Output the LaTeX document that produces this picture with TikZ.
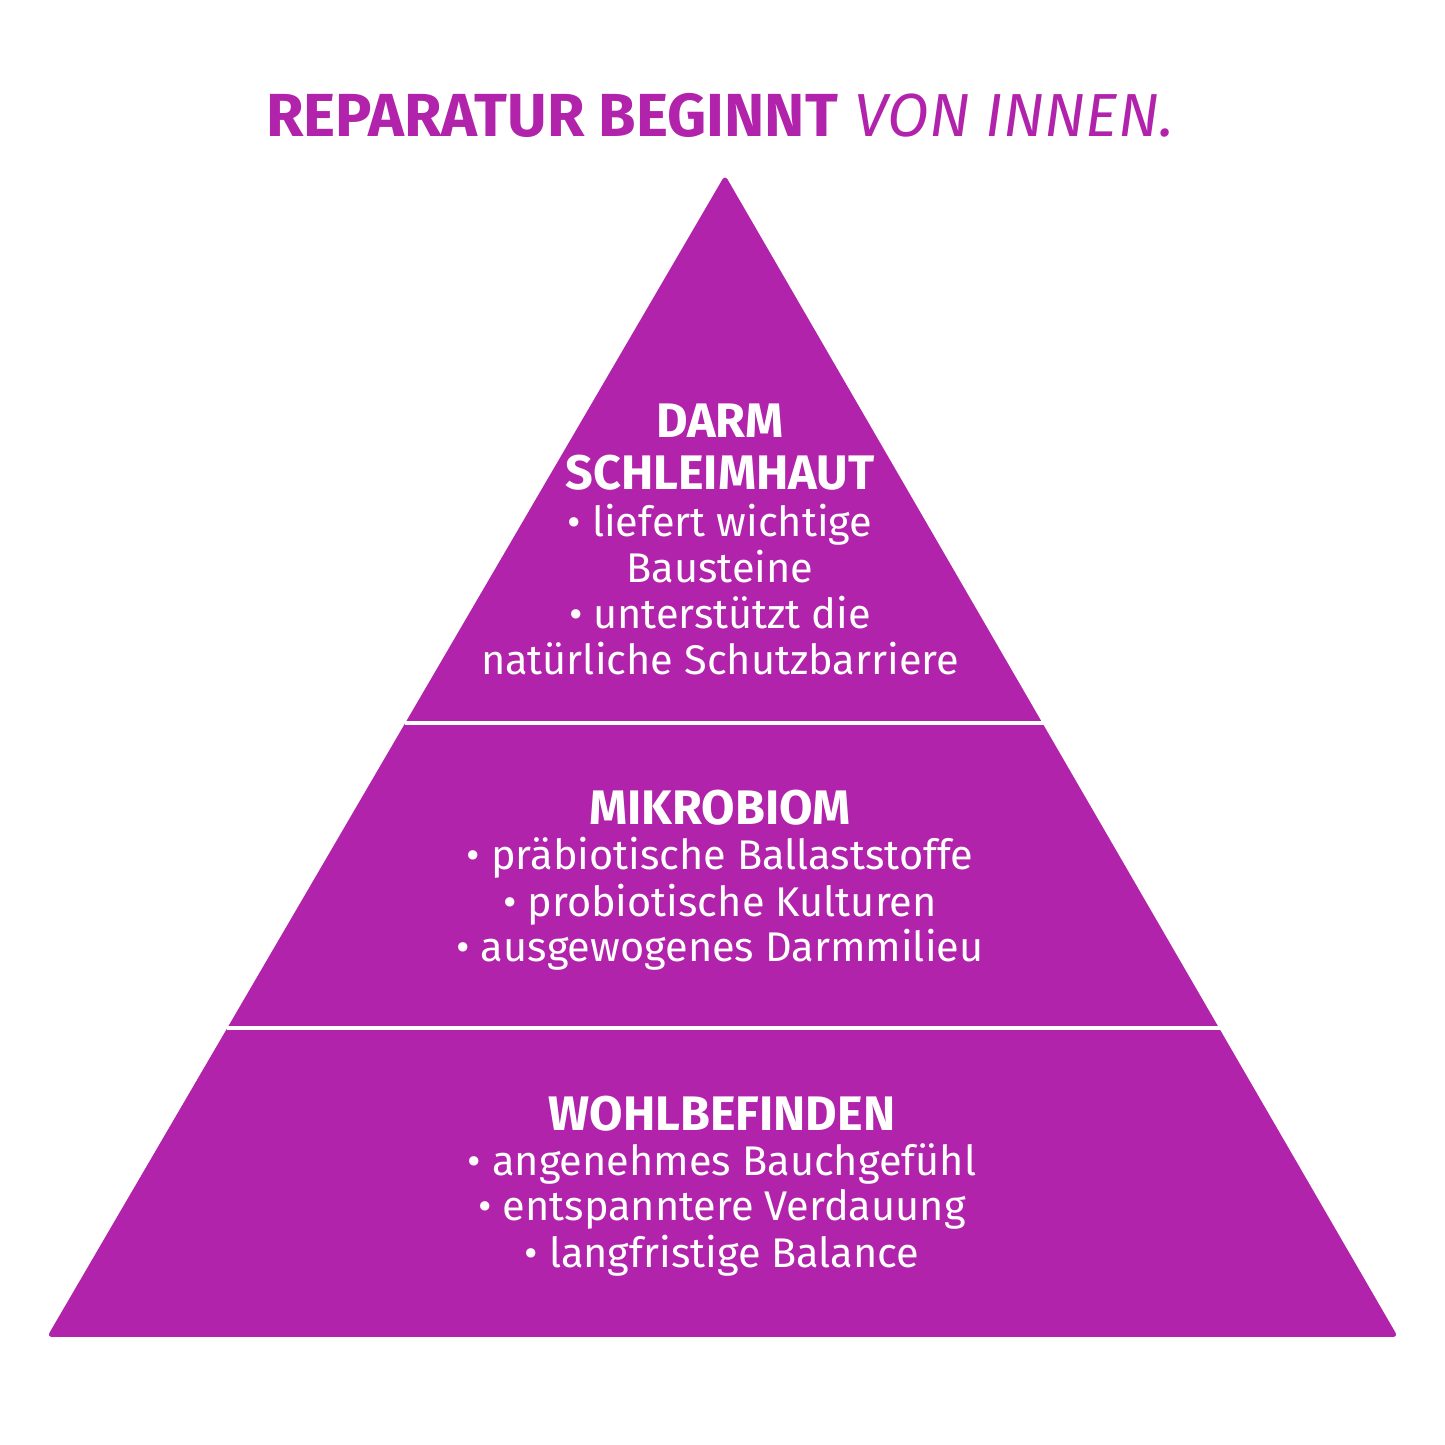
\documentclass[tikz,border=0pt]{standalone}
\usepackage{fontspec}
\setmainfont{Fira Sans}
\usepackage{tikz}
\usepackage{xcolor}
\definecolor{lila}{RGB}{177,35,170}
\tikzset{
  head/.style={anchor=base, text=white, font=\fontsize{13.8}{15}\selectfont\bfseries},
  txt/.style={anchor=base, text=white, font=\fontsize{11.8}{13}\selectfont},
  trenn/.style={white, line width=0.9pt}
}

\begin{document}
\begin{tikzpicture}
\useasboundingbox (0,0) rectangle (14.45,14.45);
\node [anchor=base, text=lila, font=\fontsize{17.3}{20}\selectfont] (titel) at (7.20,13.08) {\textbf{REPARATUR BEGINNT} \textit{VON INNEN.}};
% pyramide
\fill [lila, rounded corners=1.5pt] (7.25,12.70) -- (13.98,1.08) -- (0.47,1.08) -- cycle;
\coordinate (s1l) at (4.05,7.22);
\coordinate (s1r) at (10.45,7.22);
\coordinate (s2l) at (2.27,4.17);
\coordinate (s2r) at (12.23,4.17);
\draw [trenn] (s1l) -- (s1r);
\draw [trenn] (s2l) -- (s2r);
% oben
\node [head] (h1a) at (7.20,10.07) {DARM};
\node [head] (h1b) at (7.20,9.55) {SCHLEIMHAUT};
\node [txt] (t1a) at (7.20,9.08) {• liefert wichtige};
\node [txt] (t1b) at (7.20,8.62) {Bausteine};
\node [txt] (t1c) at (7.20,8.16) {• unterstützt die};
\node [txt] (t1d) at (7.20,7.70) {natürliche Schutzbarriere};
% mitte
\node [head] (h2) at (7.20,6.20) {MIKROBIOM};
\node [txt] (t2a) at (7.20,5.76) {• präbiotische Ballaststoffe};
\node [txt] (t2b) at (7.20,5.29) {• probiotische Kulturen};
\node [txt] (t2c) at (7.20,4.83) {• ausgewogenes Darmmilieu};
% unten
\node [head] (h3) at (7.22,3.15) {WOHLBEFINDEN};
\node [txt] (t3a) at (7.22,2.70) {• angenehmes Bauchgefühl};
\node [txt] (t3b) at (7.22,2.24) {• entspanntere Verdauung};
\node [txt] (t3c) at (7.22,1.78) {• langfristige Balance};

\end{tikzpicture}
\end{document}
